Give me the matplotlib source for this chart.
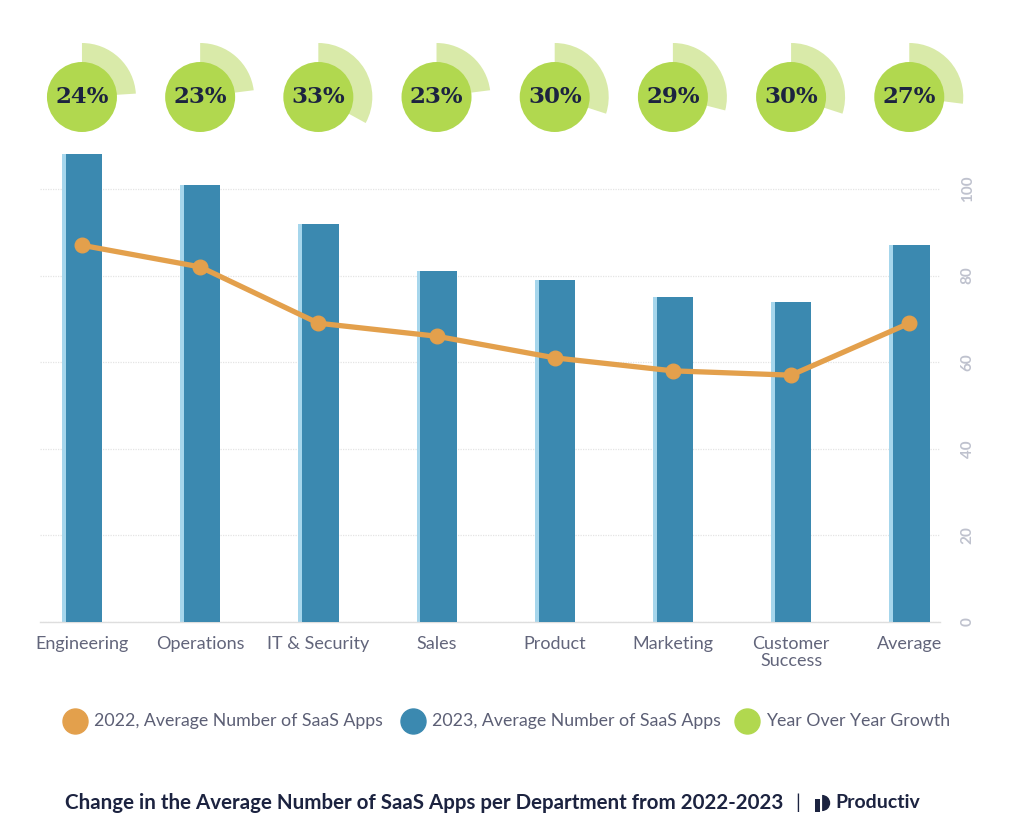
import matplotlib
matplotlib.use("Agg")
import matplotlib.pyplot as plt
from matplotlib.patches import Wedge, Circle
from matplotlib.lines import Line2D
import numpy as np

categories = ["Engineering", "Operations", "IT & Security", "Sales", "Product",
              "Marketing", "Customer\nSuccess", "Average"]
apps_2022 = [87, 82, 69, 66, 61, 58, 57, 69]
apps_2023 = [108, 101, 92, 81, 79, 75, 74, 87]
growth_pct = [24, 23, 33, 23, 30, 29, 30, 27]
yticks = [0, 20, 40, 60, 80, 100]
legend_labels = ["2022, Average Number of SaaS Apps",
                 "2023, Average Number of SaaS Apps",
                 "Year Over Year Growth"]
title = "Change in the Average Number of SaaS Apps per Department from 2022-2023"

ORANGE = "#e3a04c"
BLUE = "#3b89b0"
LIGHTBLUE = "#a6d6ec"
GREEN = "#b1d84f"
LIGHTGREEN = "#d9eaa9"
NAVY = "#1c2340"
GRAY = "#5c5f75"

plt.rcParams["font.family"] = ["Lato", "DejaVu Sans"]

W, H = 1024, 836
fig = plt.figure(figsize=(W / 100, H / 100), dpi=100)

# main axes (pixel geometry)
left_px, right_px = 40, 940
bottom_px, top_px = 622, 137
ax = fig.add_axes([left_px / W, 1 - bottom_px / H, (right_px - left_px) / W,
                   (bottom_px - top_px) / H])
x = np.arange(len(categories))
xlim = (-0.355, len(categories) - 1 + 0.26)
ax.set_xlim(*xlim)
ax.set_ylim(0, 112)

bw = 0.338
ax.bar(x, apps_2023, width=bw, color=LIGHTBLUE, zorder=2)
ax.bar(x + 0.018, apps_2023, width=bw - 0.03, color=BLUE, zorder=3)
ax.plot(x, apps_2022, color=ORANGE, lw=3.8, marker="o", ms=10.5, zorder=4,
        solid_capstyle="round")

ax.set_yticks(yticks)
ax.yaxis.tick_right()
ax.set_yticklabels([str(t) for t in yticks], rotation=90, va="center",
                   color="#bfc2ce", fontsize=11, fontweight="bold")
ax.tick_params(axis="y", length=0, pad=15)
ax.set_xticks(x)
ax.set_xticklabels(categories, color="#62657b", fontsize=13, linespacing=1.05)
ax.tick_params(axis="x", length=0, pad=10)
for s in ["top", "right", "left"]:
    ax.spines[s].set_visible(False)
ax.spines["bottom"].set_color("#dedede")
ax.spines["bottom"].set_linewidth(1)
ax.grid(axis="y", color="#e4e4e4", linestyle=(0, (1, 1)), lw=0.9, zorder=0)
ax.set_axisbelow(True)

# growth pies
ptop, pbot = 30, 165
ax2 = fig.add_axes([left_px / W, 1 - pbot / H, (right_px - left_px) / W,
                    (pbot - ptop) / H])
unit_px = (right_px - left_px) / (xlim[1] - xlim[0])
ax2.set_xlim(*xlim)
ax2.set_ylim(0, (pbot - ptop) / unit_px)
ax2.axis("off")
cy = (pbot - 97) / unit_px
r_out = 54 / unit_px
r_in = 35 / unit_px
for i, g in enumerate(growth_pct):
    ang = g * 3.6
    ax2.add_patch(Wedge((x[i], cy), r_out, 90 - ang, 90, color=LIGHTGREEN, lw=0,
                        clip_on=False))
    ax2.add_patch(Circle((x[i], cy), r_in, color=GREEN, lw=0, clip_on=False))
    ax2.text(x[i], cy, f"{g}%", ha="center", va="center", fontsize=16.5,
             fontweight="bold", color=NAVY, family=["DejaVu Serif"])

# legend (manual placement)
ly = 1 - 721 / H
marker_px = [75, 413, 747]
for mx, c, lab in zip(marker_px, (ORANGE, BLUE, GREEN), legend_labels):
    fig.add_artist(Line2D([mx / W], [ly], ls="", marker="o", ms=18, color=c,
                          transform=fig.transFigure))
    fig.text((mx + 19) / W, ly, lab, ha="left", va="center", fontsize=12.8,
             color=GRAY)

# footer title
fig.text(65 / W, 1 - 803 / H, title, ha="left", va="center", fontsize=14.8,
         fontweight="bold", color=NAVY)
fig.text(798 / W, 1 - 803 / H, "|", ha="center", va="center", fontsize=14,
         color=NAVY)
fig.text(835 / W, 1 - 803 / H, "Productiv", ha="left", va="center", fontsize=14,
         fontweight="bold", color=NAVY)
# small logo mark
lax = fig.add_axes([814 / W, 1 - 812 / H, 18 / W, 18 / H])
lax.axis("off")
lax.set_xlim(0, 1); lax.set_ylim(0, 1)
lax.add_patch(plt.Rectangle((0.05, 0.0), 0.3, 0.75, color=NAVY, lw=0))
lax.add_patch(Wedge((0.45, 0.5), 0.45, -90, 90, color=NAVY, lw=0))

fig.savefig("out.png", dpi=100)
